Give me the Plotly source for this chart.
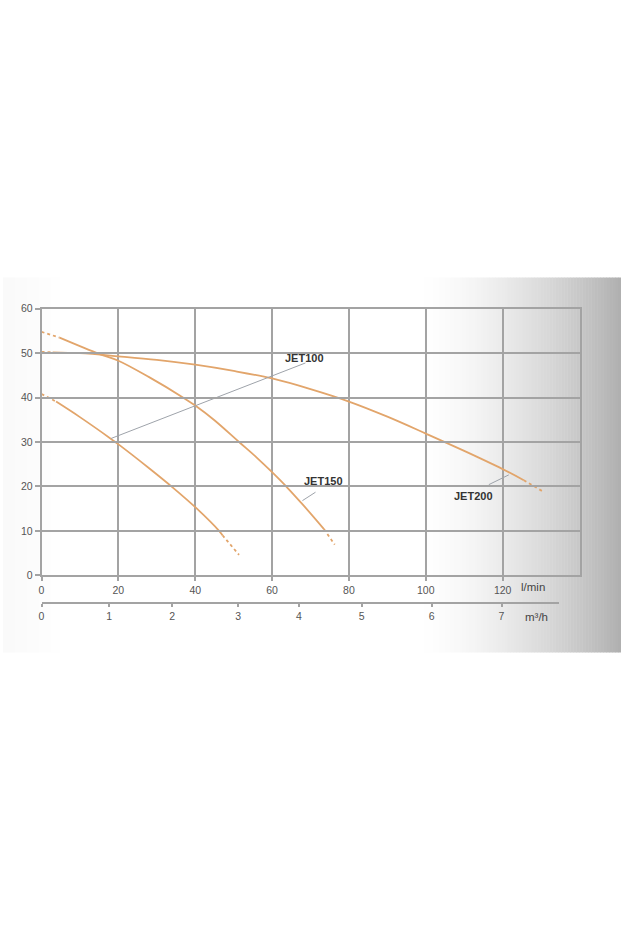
import plotly.graph_objects as go

# ---------------- data ----------------
# flow Q in l/min, head H in m
jet100_q = [3.8, 10, 18.1, 20.3, 28, 34.1, 40.3, 46.2, 47.1]
jet100_h = [39.1, 35.6, 30.7, 29.3, 24.1, 19.8, 15.1, 10.0, 9.0]
jet100_dash_start_q = [0, 3.8]
jet100_dash_start_h = [40.8, 39.1]
jet100_dash_end_q = [47.1, 51.4]
jet100_dash_end_h = [9.0, 4.6]

jet150_q = [4.7, 15.1, 20, 28, 36.7, 40, 45, 51.4, 56, 60, 64, 68, 73.5]
jet150_h = [53.5, 49.8, 48.3, 44.6, 40.1, 38.2, 34.9, 30.0, 26.5, 23.2, 19.7, 15.9, 10.4]
jet150_dash_start_q = [0, 4.7]
jet150_dash_start_h = [54.8, 53.5]
jet150_dash_end_q = [73.5, 76.3]
jet150_dash_end_h = [10.4, 6.9]

jet200_q = [2.9, 10, 20, 30, 40, 50, 60, 70, 80, 90, 100, 110, 120, 125.5]
jet200_h = [50.2, 50.0, 49.3, 48.5, 47.4, 46.0, 44.3, 41.9, 39.1, 35.7, 31.9, 28.0, 23.9, 21.4]
jet200_dash_start_q = [0, 2.9]
jet200_dash_start_h = [50.3, 50.2]
jet200_dash_end_q = [125.5, 130.4]
jet200_dash_end_h = [21.4, 18.9]

# labels and their leader lines
label_names = ["JET100", "JET150", "JET200"]
label_q = [68.4, 73.5, 112.5]
label_h = [48.8, 21.3, 17.8]
leader_q = [[68.7, 18.1], [71.3, 67.9], [116.4, 121.6]]
leader_h = [[47.8, 30.8], [18.7, 16.8], [20.4, 22.6]]

# axes ticks
lmin_ticks = [0, 20, 40, 60, 80, 100, 120]
head_ticks = [0, 10, 20, 30, 40, 50, 60]
m3h_labels = ["0", "1", "2", "3", "4", "5", "6", "7"]
m3h_tick_pos = [0, 1.03, 1.988, 2.992, 3.916, 4.870, 5.936, 7.0]

# ---------------- styling ----------------
W, H = 621, 931
CURVE = "#e2a56b"
GRID = "#a3a3a3"
TXT = "#555555"
FONT = "Liberation Sans, Arial, sans-serif"


def px(x):
    return x / W


def py(y):
    return 1 - y / H


fig = go.Figure()

curves = [
    (jet100_q, jet100_h, jet100_dash_start_q, jet100_dash_start_h, jet100_dash_end_q, jet100_dash_end_h),
    (jet150_q, jet150_h, jet150_dash_start_q, jet150_dash_start_h, jet150_dash_end_q, jet150_dash_end_h),
    (jet200_q, jet200_h, jet200_dash_start_q, jet200_dash_start_h, jet200_dash_end_q, jet200_dash_end_h),
]
for q, h, dsq, dsh, deq, deh in curves:
    fig.add_trace(go.Scatter(x=q, y=h, mode="lines",
                             line=dict(color=CURVE, width=1.8, shape="spline", smoothing=1.0),
                             hoverinfo="skip", showlegend=False))
    for xq, yh in ((dsq, dsh), (deq, deh)):
        fig.add_trace(go.Scatter(x=xq, y=yh, mode="lines",
                                 line=dict(color=CURVE, width=1.8, dash="3px,3px"),
                                 hoverinfo="skip", showlegend=False))

for lq, lh in zip(leader_q, leader_h):
    fig.add_trace(go.Scatter(x=lq, y=lh, mode="lines", line=dict(color="#9ea3aa", width=1),
                             hoverinfo="skip", showlegend=False))

# dummy trace so the secondary (m3/h) axis is drawn
fig.add_trace(go.Scatter(x=[0, 7.879], y=[None, None], xaxis="x2", yaxis="y", mode="lines",
                         hoverinfo="skip", showlegend=False))

for name, q, h in zip(label_names, label_q, label_h):
    fig.add_annotation(x=q, y=h, text=name, showarrow=False,
                       font=dict(family=FONT, size=11, color="#333333", weight="bold"))

fig.add_annotation(x=px(519), y=py(589), xref="paper", yref="paper", text="l/min", showarrow=False,
                   xanchor="left", font=dict(family=FONT, size=11.5, color="#444444"))
fig.add_annotation(x=px(523), y=py(619), xref="paper", yref="paper", text="m³/h", showarrow=False,
                   xanchor="left", font=dict(family=FONT, size=11.5, color="#444444"))

# background band with right-side grey gradient
shapes = []
band_top, band_bot = py(275), py(655)
step = 3
for x0 in range(0, W, step):
    xc = x0 + step / 2
    if xc < 415:
        g = 255
        if xc < 70:
            g = 255 - int(6 * (1 - xc / 70))
    else:
        t = (xc - 415) / (W - 415)
        g = int(round(255 - 80 * t ** 1.6))
    col = f"rgb({g},{g},{g})"
    shapes.append(dict(type="rect", xref="paper", yref="paper", x0=px(x0), x1=px(min(x0 + step + 0.5, W)),
                       y0=band_bot, y1=band_top, fillcolor=col, line=dict(width=0), layer="below"))

fig.update_layout(
    width=W, height=H,
    margin=dict(l=0, r=0, t=0, b=0),
    paper_bgcolor="white",
    plot_bgcolor="rgba(0,0,0,0)",
    shapes=shapes,
    font=dict(family=FONT, size=10.5, color=TXT),
    xaxis=dict(domain=[px(38.7), px(579.3)], range=[0, 140], tickvals=lmin_ticks,
               showgrid=True, gridcolor=GRID, gridwidth=1.5, zeroline=False,
               showline=True, linecolor=GRID, linewidth=1.5, mirror=True,
               ticks="outside", ticklen=4, tickcolor=GRID, tickwidth=1.5,
               tickfont=dict(family=FONT, size=10.5, color=TXT), fixedrange=True),
    xaxis2=dict(domain=[px(38.7), px(559)], range=[0, 7.879], anchor="free", position=py(605),
                tickvals=m3h_tick_pos, ticktext=m3h_labels, showgrid=False, zeroline=False,
                showline=True, linecolor=GRID, linewidth=1.5,
                ticks="outside", ticklen=3, tickcolor=GRID, tickwidth=1.5,
                tickfont=dict(family=FONT, size=10.5, color=TXT), fixedrange=True),
    yaxis=dict(domain=[py(576.7), py(306.7)], range=[0, 60], tickvals=head_ticks,
               showgrid=True, gridcolor=GRID, gridwidth=1.5, zeroline=False,
               showline=True, linecolor=GRID, linewidth=1.5, mirror=True,
               ticks="outside", ticklen=5, tickcolor=GRID, tickwidth=1.5,
               tickfont=dict(family=FONT, size=10.5, color=TXT), fixedrange=True),
)

fig.write_html("out.html", config={"displayModeBar": False},
               post_script="document.body.style.margin='0';document.body.style.overflow='hidden';")
